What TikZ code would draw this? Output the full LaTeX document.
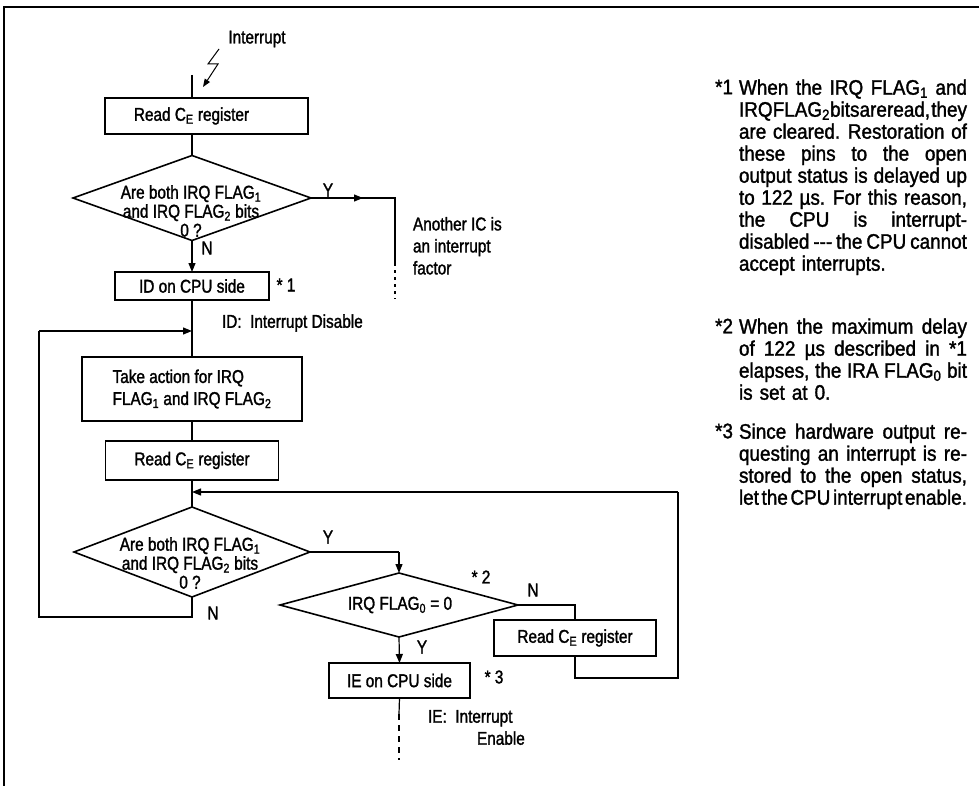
\documentclass[tikz,border=0pt]{standalone}
\usepackage{fontspec}
\setmainfont{Liberation Sans}[FakeStretch=0.83,FakeBold=1.5]
\newfontfamily\notefont{Liberation Sans}[FakeStretch=0.9,FakeBold=1.5]
\usetikzlibrary{shapes.geometric,arrows.meta}
\newcommand\jl[1]{\makebox[228pt][s]{\spaceskip=0.25em plus 1fil minus 0.25em\relax\xspaceskip=0.3em plus 1fil minus 0.3em\relax #1}}
\tikzset{
  every node/.style={font=\fontsize{18.5}{22}\selectfont, inner sep=0pt, outer sep=0pt},
  box/.style={draw, rectangle, line width=1.6pt},
  dia/.style={draw, diamond, line width=1.6pt},
  conn/.style={line width=1.2pt},
  arr/.style={conn, -{Triangle[length=9pt,width=7pt]}},
  dtext/.style={align=center, font=\fontsize{18.5}{19}\selectfont},
  note/.style={anchor=north west, align=left, text width=228pt, font=\notefont\fontsize{21}{22}\selectfont},
  notemark/.style={anchor=east, font=\notefont\fontsize{21}{22}\selectfont},
}
\begin{document}
\begin{tikzpicture}[x=1pt,y=-1pt]
\useasboundingbox (0,0) rectangle (979,786);
% frame
\draw[line width=2pt] (4,786) -- (4,7) -- (979,7);

% interrupt entry
\node (intl) at (257,39) {Interrupt};
\coordinate (lz1) at (219,49);
\coordinate (lz2) at (208,64);
\coordinate (lz3) at (218,64);
\coordinate (lz4) at (203,87);
\draw[conn, line width=1pt, -{Triangle[length=8pt,width=6pt]}] (lz1) -- (lz2) -- (lz3) -- (lz4);
\coordinate (top) at (192,75);

% first block
\node[box, minimum width=203pt, minimum height=36pt] (b1) at (206.5,116) {\hspace*{-30pt}Read C\textsubscript{E} register};
\draw[conn] (top) -- (top |- b1.north);

\node[dia, minimum width=238pt, minimum height=85pt] (d1) at (192,198) {};
\node[dtext] (d1t) at (191,211) {Are both IRQ FLAG\textsubscript{1}\\and IRQ FLAG\textsubscript{2} bits\\0 ?};
\draw[conn] (top |- b1.south) -- (d1.north);

% Y branch of first decision
\node (y1) at (328,190) {Y};
\coordinate (m1) at (363,198);
\coordinate (c1) at (395,198);
\coordinate (c1e) at (395,263);
\coordinate (c1d) at (395,299);
\draw[conn] (d1.east) -- (c1) -- (c1e);
\draw[arr] (d1.east) -- (m1);
\draw[conn, dash pattern=on 3pt off 4pt] (c1e) -- (c1d);
\node[anchor=north west, align=left] (anot) at (413,217) {Another IC is\\an interrupt\\factor};

% N branch
\node (n1) at (207,248) {N};
\node[box, minimum width=154pt, minimum height=28pt] (bid) at (192,286) {ID on CPU side};
\draw[arr] (d1.south) -- (bid.north);
\node (s1) at (286,285) {* 1};
\node[anchor=west] (idl) at (222,323) {ID:\ \ Interrupt Disable};

\coordinate (j1) at (192,331);
\node[box, minimum width=220pt, minimum height=64pt, align=left] (b3) at (192,389) {Take action for IRQ\\FLAG\textsubscript{1} and IRQ FLAG\textsubscript{2}};
\draw[conn] (bid.south) -- (b3.north);

\node[box, minimum width=173pt, minimum height=39pt] (b4) at (192,460.5) {Read C\textsubscript{E} register};
\draw[conn] (b3.south) -- (b4.north);

\coordinate (j2) at (192,492);
\node[dia, minimum width=236pt, minimum height=90pt] (d2) at (192,552) {};
\node[dtext] (d2t) at (190,563) {Are both IRQ FLAG\textsubscript{1}\\and IRQ FLAG\textsubscript{2} bits\\0 ?};
\draw[conn] (b4.south) -- (d2.north);

% loop back on N
\node (n2) at (213,613) {N};
\coordinate (c8) at (192,617);
\coordinate (c9) at (39,617);
\coordinate (c10) at (39,331);
\draw[conn] (d2.south) -- (c8) -- (c9) -- (c10);
\draw[arr] (c10) -- (j1);

% Y of second decision
\node (y2) at (328,537) {Y};
\coordinate (c2) at (399,552);
\node[dia, minimum width=238pt, minimum height=64pt] (d3) at (399,605) {};
\node (d3t) at (400,605) {IRQ FLAG\textsubscript{0} = 0};
\draw[conn] (d2.east) -- (c2);
\draw[arr] (c2) -- (d3.north);
\node (s2) at (481,577) {* 2};

% N of third decision
\node (n3) at (533,590) {N};
\coordinate (c3) at (575,605);
\node[box, minimum width=162pt, minimum height=36pt] (b5) at (575,638) {Read C\textsubscript{E} register};
\draw[conn] (d3.east) -- (c3) -- (b5.north);
\coordinate (c4) at (575,678);
\coordinate (c5) at (678,678);
\coordinate (c6) at (678,492);
\draw[conn] (b5.south) -- (c4) -- (c5) -- (c6);
\draw[arr] (c6) -- (j2);

% Y of third decision
\node (y3) at (422,647) {Y};
\node[box, minimum width=141pt, minimum height=35pt] (bie) at (399.5,680.5) {IE on CPU side};
\draw[arr] (d3.south) -- (bie.north);
\node (s3) at (494,677) {* 3};
\coordinate (c7a) at (399,714);
\coordinate (c7) at (399,760);
\draw[conn] (bie.south) -- (c7a);
\draw[conn, dash pattern=on 6pt off 5pt] (c7a) -- (c7);
\node[anchor=north west, align=left] (iel) at (428,710) {IE:\ \ Interrupt\\\hspace*{49pt}Enable};

% notes
\node[notemark] (k1) at (733,87) {*1};
\node[note] (p1) at (739,79.5) {%
\jl{When the IRQ FLAG\textsubscript{1} and}\\
\jl{IRQ FLAG\textsubscript{2} bits are read, they}\\
\jl{are cleared. Restoration of}\\
\jl{these pins to the open}\\
\jl{output status is delayed up}\\
\jl{to 122 µs. For this reason,}\\
\jl{the CPU is interrupt-}\\
\jl{disabled -{}-{}- the CPU cannot}\\
accept interrupts.};
\node[notemark] (k2) at (733,326) {*2};
\node[note] (p2) at (739,318.5) {%
\jl{When the maximum delay}\\
\jl{of 122 µs described in *1}\\
\jl{elapses, the IRA FLAG\textsubscript{0} bit}\\
is set at 0.};
\node[notemark] (k3) at (733,431) {*3};
\node[note] (p3) at (739,423.5) {%
\jl{Since hardware output re-}\\
\jl{questing an interrupt is re-}\\
\jl{stored to the open status,}\\
\jl{let the CPU interrupt enable.}};
\end{tikzpicture}
\end{document}
